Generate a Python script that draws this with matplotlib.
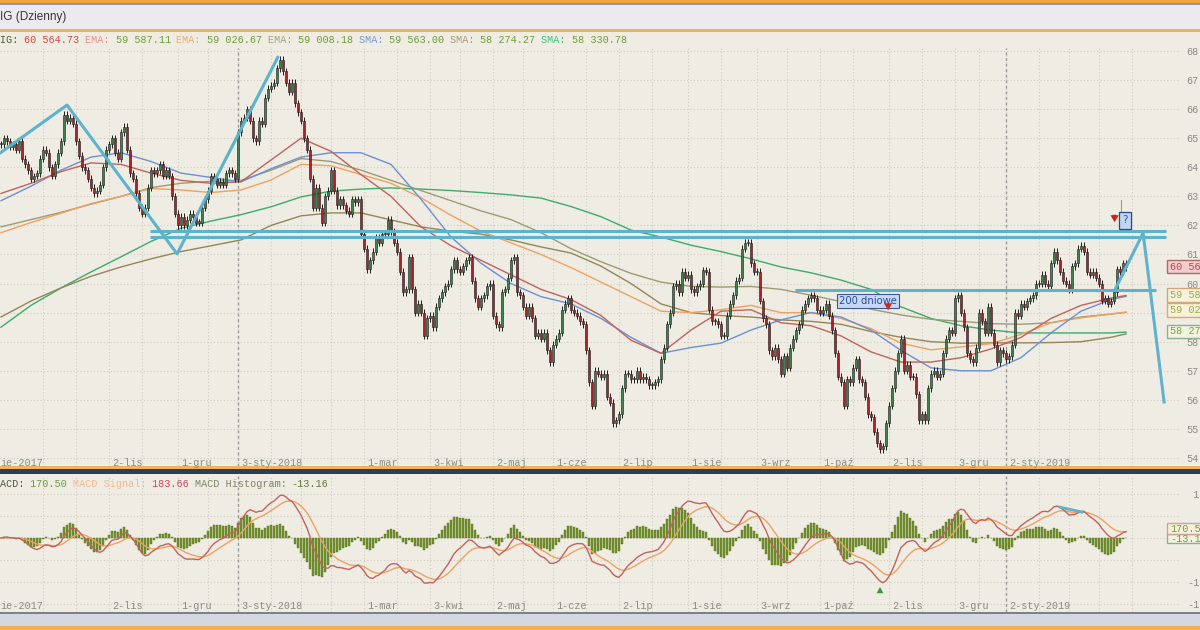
import numpy as np
import pandas as pd
import matplotlib
matplotlib.use("Agg")
import matplotlib.pyplot as plt
from matplotlib.patches import Rectangle

# WIG daily, mid-Sep 2017 .. Feb 2019, closes in thousands of points
closes = [
    64.8, 65.0, 64.9, 64.7, 64.8, 64.6, 64.9, 64.3, 64.1, 63.9,
    63.6, 63.7, 63.8, 64.3, 64.6, 64.5, 64.0, 63.7, 64.1, 64.5,
    64.9, 65.8, 65.6, 65.7, 65.5, 64.9, 64.4, 64.0, 63.9, 63.6,
    63.3, 63.1, 63.2, 63.4, 64.0, 64.6, 64.8, 65.0, 64.5, 64.3,
    65.2, 65.4, 64.6, 63.8, 63.6, 63.1, 62.6, 62.4, 62.6, 63.3,
    63.9, 63.8, 63.9, 64.1, 63.7, 63.9, 63.7, 63.0, 62.4, 62.0,
    62.3, 62.0, 62.2, 62.4, 62.3, 62.1, 62.1, 62.6, 62.9, 63.2,
    63.7, 63.6, 63.4, 63.5, 63.4, 63.8, 63.9, 63.8, 63.6, 65.2,
    65.6, 65.7, 66.0, 65.6, 65.0, 64.9, 65.6, 65.5, 66.4, 66.7,
    66.8, 66.9, 67.4, 67.7, 67.3, 66.9, 66.6, 66.9, 66.2, 65.9,
    65.6, 65.0, 64.6, 63.6, 62.6, 63.3, 62.6, 62.1, 63.0, 63.2,
    63.9, 63.2, 62.7, 62.9, 62.7, 62.5, 62.4, 62.9, 62.8, 62.9,
    61.7, 61.2, 60.5, 60.8, 61.1, 61.6, 61.4, 61.7, 61.7, 62.2,
    61.8, 61.4, 61.1, 60.4, 59.7, 59.8, 60.9, 59.8, 59.0, 59.3,
    59.0, 58.2, 58.8, 58.9, 58.5, 59.2, 59.5, 59.7, 59.9, 60.0,
    60.5, 60.8, 60.5, 60.4, 60.6, 60.8, 60.9, 60.1, 59.5, 59.2,
    59.5, 59.6, 59.9, 60.0, 58.9, 58.6, 58.5, 59.7, 59.8, 60.2,
    60.8, 60.9, 59.7, 59.6, 59.2, 58.9, 59.2, 58.8, 58.2, 58.3,
    58.1, 58.3, 57.7, 57.3, 57.9, 58.1, 58.3, 59.1, 59.3, 59.5,
    59.1, 59.0, 58.9, 58.7, 58.6, 57.7, 56.6, 55.8, 57.0, 56.9,
    56.8, 56.9, 56.1, 55.9, 55.2, 55.3, 55.5, 56.4, 56.9, 56.9,
    56.7, 56.7, 57.0, 56.7, 56.8, 56.7, 56.5, 56.5, 56.6, 56.7,
    57.4, 57.8, 58.6, 59.0, 59.9, 60.0, 59.7, 60.4, 60.2, 60.3,
    59.8, 59.7, 59.9, 60.0, 60.45, 60.4, 59.1, 58.7, 58.7, 58.6,
    58.2, 58.2, 58.9, 59.3, 59.6, 60.1, 60.2, 61.2, 61.4, 61.4,
    60.7, 60.4, 60.4, 59.4, 58.8, 58.6, 57.7, 57.5, 57.8, 57.4,
    56.9, 57.5, 57.1, 57.8, 58.1, 58.4, 58.6, 59.1, 59.3, 59.5,
    59.6, 59.5, 59.1, 59.0, 59.1, 59.3, 58.9, 58.4, 57.6, 56.8,
    56.6, 55.8, 56.7, 56.6, 57.1, 57.4, 56.7, 56.6, 56.1, 55.5,
    55.4, 54.9, 54.5, 54.3, 54.4, 55.2, 55.8, 56.4, 57.0, 57.6,
    58.1, 57.0, 57.2, 56.8, 56.8, 56.2, 55.3, 55.5, 55.3, 56.4,
    56.9, 57.0, 56.8, 56.9, 57.6, 58.1, 58.4, 58.3, 59.5, 59.6,
    59.0, 58.5, 57.6, 57.4, 57.3, 57.8, 59.0, 58.7, 58.3, 59.2,
    58.3, 57.9, 57.3, 57.7, 57.6, 57.4, 57.5, 57.9, 59.0, 58.9,
    59.3, 59.2, 59.4, 59.5, 59.6, 60.0, 60.0, 60.3, 60.0, 59.9,
    60.7, 61.1, 60.8, 60.4, 60.1, 60.0, 59.8, 60.6, 60.7, 61.2,
    61.3, 61.1, 60.4, 60.3, 60.4, 60.2, 60.0, 59.4, 59.5, 59.3,
    59.4, 59.7, 60.5, 60.4, 60.7, 60.56,
]

# moving averages every 10 sessions
ma_idx = list(range(0, 371, 10)) + [375]
ema_short = [63.1, 63.45, 63.85, 64.15, 64.1, 63.8, 63.55, 63.45, 63.5, 64.25,
             65.0, 64.55, 63.75, 63.0, 61.95, 61.3, 60.8, 60.3, 59.8, 59.45,
             58.9, 58.05, 57.6, 58.4, 59.05, 59.1, 58.65, 58.55, 58.2, 57.65,
             57.3, 57.3, 57.45, 57.75, 58.15, 58.8, 59.25, 59.5, 59.59]
sma_short = [62.85, 63.35, 63.9, 64.35, 64.5, 64.2, 63.8, 63.65, 63.5, 63.95,
             64.35, 64.5, 64.5, 64.1, 62.9, 61.6, 60.7, 60.0, 59.55, 59.3,
             58.8, 58.15, 57.6, 57.8, 57.95, 58.4, 58.75, 59.0, 58.85, 58.4,
             57.7, 57.1, 57.0, 57.0, 57.45, 58.3, 59.05, 59.45, 59.56]
ema_mid = [61.75, 62.1, 62.42, 62.75, 63.0, 63.27, 63.22, 63.13, 63.22, 63.56,
           64.1, 64.05, 63.75, 63.45, 62.95, 62.35, 61.8, 61.4, 61.0, 60.55,
           60.05, 59.55, 59.05, 59.0, 59.1, 59.25, 59.0, 59.0, 58.8, 58.45,
           57.95, 57.72, 57.82, 57.93, 58.25, 58.65, 58.82, 58.95, 59.02]
ema_long = [61.95, 62.2, 62.45, 62.73, 63.0, 63.3, 63.45, 63.52, 63.55, 63.9,
            64.3, 64.2, 63.9, 63.55, 63.2, 62.85, 62.5, 62.2, 61.75, 61.2,
            60.75, 60.35, 60.05, 59.9, 59.88, 59.9, 59.8, 59.6, 59.38, 59.12,
            58.92, 58.77, 58.7, 58.62, 58.6, 58.65, 58.85, 58.95, 59.01]
sma_mid = [58.85, 59.4, 59.85, 60.25, 60.57, 60.85, 61.1, 61.3, 61.5, 62.0,
           62.33, 62.43, 62.43, 62.19, 61.95, 61.8, 61.7, 61.5, 61.26, 61.05,
           60.6, 60.0, 59.3, 59.0, 58.9, 58.85, 58.75, 58.7, 58.6, 58.35,
           58.15, 58.0, 57.95, 57.96, 57.96, 57.97, 58.0, 58.15, 58.27]
sma_200 = [58.5, 59.25, 59.85, 60.4, 60.92, 61.45, 61.9, 62.15, 62.37, 62.64,
           62.98, 63.18, 63.25, 63.29, 63.25, 63.2, 63.13, 63.05, 62.94, 62.65,
           62.3, 61.84, 61.6, 61.32, 61.1, 60.85, 60.57, 60.37, 60.12, 59.8,
           59.2, 58.8, 58.55, 58.4, 58.3, 58.3, 58.3, 58.3, 58.33]

month_ticks = [36, 59, 79, 121, 143, 164, 184, 206, 229, 252, 273, 296, 318, 335]
month_labels = ["2-lis", "1-gru", "3-sty-2018", "1-mar", "3-kwi", "2-maj", "1-cze",
                "2-lip", "1-sie", "3-wrz", "1-paź", "2-lis", "3-gru", "2-sty-2019"]
year_ticks = [79, 335]
grid_days = [14, 25, 36, 47, 59, 69, 79, 90, 100, 110, 121, 132, 143, 153, 164, 174,
             184, 195, 206, 217, 229, 240, 252, 262, 273, 284, 296, 307, 318, 326,
             335, 346, 356, 366, 377]
price_ticks = [54, 55, 56, 57, 58, 60, 61, 62, 63, 64, 65, 66, 67, 68]

# hand drawn lines
zig_x = [-0.3, 22, 58.7, 92.3]
zig_y = [64.49, 66.14, 61.02, 67.79]
channel = [61.81, 61.60]
support = 59.78
proj_x = [371.3, 380.7, 387.7]
proj_y = [59.78, 61.74, 55.93]

W, H = 1200, 630
BG = "#efece3"
MONO = "Liberation Mono"
GRIDC = "#cfcbc0"


def fy(py):
    return 1 - py / H


def price_of(py):
    return 68 - (py - 51) / 29.07


fig = plt.figure(figsize=(12, 6.3), dpi=100)
fig.patch.set_facecolor(BG)

# window chrome
for y0, y1, col in [(0, 2.5, "#f2a33a"), (2.5, 4.5, "#8d97a8"), (4.5, 29, "#ebebef"),
                    (29, 32, "#f2b155"), (466, 468.5, "#f2b25a"), (468.5, 474, "#2e3d58"),
                    (612, 614, "#7c818a"), (614, 626, "#d5d8df"), (626, 630, "#f2b050")]:
    fig.add_artist(Rectangle((0, fy(y1)), 1, (y1 - y0) / H, transform=fig.transFigure,
                             color=col, lw=0, zorder=0))

fig.text(0, fy(17), "IG (Dzienny)", fontsize=8.5, family="Liberation Sans",
         color="#353535", va="center")

cw = 6.08  # monospace advance in px


def legend_row(py, parts):
    n = 0
    for s, col in parts:
        fig.text(n * cw / W, fy(py), s, fontsize=7.3, family=MONO, color=col, va="center")
        n += len(s)


VAL = "#6f9c3c"
legend_row(40, [("IG: ", "#4d5a3c"), ("60 564.73 ", "#d24a48"),
                ("EMA: ", "#e99090"), ("59 587.11 ", VAL),
                ("EMA: ", "#f0aa6a"), ("59 026.67 ", VAL),
                ("EMA: ", "#a3a384"), ("59 008.18 ", VAL),
                ("SMA: ", "#7199d8"), ("59 563.00 ", VAL),
                ("SMA: ", "#a99a7c"), ("58 274.27 ", VAL),
                ("SMA: ", "#3fc07f"), ("58 330.78", VAL)])
legend_row(484, [("ACD: ", "#4d5a3c"), ("170.50 ", VAL),
                 ("MACD Signal: ", "#f2b891"), ("183.66 ", "#d24458"),
                 ("MACD Histogram: ", "#7e8464"), ("-13.16", "#5f7a3a")])

# ---------------- price panel ----------------
ax = fig.add_axes([0, fy(466), 1180 / W, (466 - 48) / H])
xmin = -1 / 3
xmax = xmin + 1180 / 3
ax.set_xlim(xmin, xmax)
ax.set_ylim(price_of(466), price_of(48))
ax.set_facecolor(BG)
for s in ax.spines.values():
    s.set_visible(False)
ax.set_xticks([])
ax.yaxis.tick_right()
ax.set_yticks(price_ticks)
ax.set_yticklabels([str(v) for v in price_ticks])
ax.tick_params(axis="y", length=0, pad=4.3, labelsize=7.3, labelcolor="#8a8a8a")
for t in ax.get_yticklabels():
    t.set_family(MONO)

ax.hlines(range(54, 69), xmin, xmax, color=GRIDC, lw=0.8, linestyles=(0, (1, 2)), zorder=1)
ax.vlines(grid_days, price_of(466), price_of(48), color=GRIDC, lw=0.8,
          linestyles=(0, (1, 2)), zorder=1)
ax.vlines(year_ticks, price_of(466), price_of(48), color="#9b9b9b", lw=1.0,
          linestyles=(0, (2, 2)), zorder=1)

for vals, col in [(sma_200, "#3dab6c"), (sma_mid, "#958556"), (ema_long, "#9c9c74"),
                  (ema_mid, "#eea262"), (sma_short, "#6b90d2"), (ema_short, "#c2625c")]:
    ax.plot(ma_idx, vals, color=col, lw=1.0, zorder=2)

c = np.array(closes)
o = np.r_[c[0], c[:-1]]
idx = np.arange(len(c))
wick = 0.12
hi = np.maximum(o, c) + wick
lo = np.minimum(o, c) - wick
up = c >= o
ax.vlines(idx, lo, hi, color="#1e1e1e", lw=0.7, zorder=3)
ax.bar(idx, np.maximum(np.abs(c - o), 0.035), bottom=np.minimum(o, c), width=0.8,
       color=np.where(up, "#3f7f50", "#a3262a"), edgecolor="#1a1a1a", linewidth=0.4,
       zorder=4)

TL = "#5cb3cb"
ax.plot(zig_x, zig_y, color=TL, lw=2.2, zorder=5, solid_capstyle="round")
ax.hlines(channel, 49.7, 388.3, color=TL, lw=2.2, zorder=5)
ax.hlines(support, 264.7, 385, color=TL, lw=2.2, zorder=5)
ax.plot(proj_x, proj_y, color=TL, lw=2.2, zorder=5)

ax.text(289, price_of(301), "200 dniowe", ha="center", va="center", fontsize=7.2,
        family="DejaVu Sans", color="#2b4c9c", zorder=7,
        bbox=dict(boxstyle="square,pad=0.18", fc="#c9d8f2", ec="#3a5a9a", lw=0.8))
arrow = dict(arrowstyle="simple,head_width=0.6,head_length=0.5,tail_width=0.3",
             color="#cc2424", lw=0)
ax.annotate("", xy=(295.7, price_of(313)), xytext=(295.7, price_of(304)),
            arrowprops=arrow, zorder=7)
ax.annotate("", xy=(371.2, price_of(225)), xytext=(371.2, price_of(212)),
            arrowprops=arrow, zorder=7)
ax.plot([373.3, 373.3], [price_of(200), price_of(212)], color="#9a9a9a", lw=0.8, zorder=6)
ax.text(374.6, price_of(220.5), "?", ha="center", va="center", fontsize=7.5,
        family="DejaVu Sans", color="#3553a5", zorder=7,
        bbox=dict(boxstyle="square,pad=0.3", fc="#c3d5f4", ec="#2a4a8a", lw=0.9))

xt = ax.get_xaxis_transform()
lab_y = (466 - 463) / (466 - 48)
ax.text(xmin, lab_y, "ie-2017", transform=xt, fontsize=7.3, family=MONO,
        color="#8a8a8a", va="center")
for t, s in zip(month_ticks, month_labels):
    ax.text(t + 1, lab_y, s, transform=xt, fontsize=7.3, family=MONO,
            color="#8a8a8a", va="center")

# ---------------- MACD panel ----------------
ema12 = pd.Series(c).ewm(span=12, adjust=False).mean()
ema26 = pd.Series(c).ewm(span=26, adjust=False).mean()
macd = ema12 - ema26
signal = macd.ewm(span=9, adjust=False).mean()
hist = macd - signal

m_lo, m_hi = (538 - 612) / 44, (538 - 476) / 44
hscale = 1.6
axm = fig.add_axes([0, fy(612), 1180 / W, (612 - 476) / H])
axm.set_facecolor(BG)
axm.set_xlim(xmin, xmax)
axm.set_ylim(m_lo / hscale, m_hi / hscale)
axm.set_xticks([])
axm.set_yticks([])
for s in axm.spines.values():
    s.set_visible(False)
gl = np.array([-1.5, -1.0, -0.5, 0.0, 0.5, 1.0])
axm.hlines(gl / hscale, xmin, xmax, color=GRIDC, lw=0.8, linestyles=(0, (1, 2)), zorder=1)
axm.vlines(grid_days, m_lo / hscale, m_hi / hscale, color=GRIDC, lw=0.8,
           linestyles=(0, (1, 2)), zorder=1)
axm.vlines(year_ticks, m_lo / hscale, m_hi / hscale, color="#9b9b9b", lw=1.0,
           linestyles=(0, (2, 2)), zorder=1)
axm.bar(idx, hist, width=0.8, color="#72932a", edgecolor="#55701c", linewidth=0.3, zorder=2)

axl = axm.twinx()
axl.set_xlim(xmin, xmax)
axl.set_ylim(m_lo, m_hi)
for s in axl.spines.values():
    s.set_visible(False)
axl.plot(idx, signal, color="#eea262", lw=1.0)
axl.plot(idx, macd, color="#c2625c", lw=1.0)
axl.plot([353, 360.3], [0.70, 0.59], color=TL, lw=2.0)
axl.annotate("", xy=(293, -1.05), xytext=(293, -1.25),
             arrowprops=dict(arrowstyle="simple,head_width=0.5,head_length=0.45,tail_width=0.22",
                             color="#3a9a3a", lw=0))
axl.set_yticks([1.0, -1.0, -1.5])
axl.set_yticklabels([" 1", "-1", "-1"])
axl.tick_params(axis="y", length=0, pad=5, labelsize=7.3, labelcolor="#8a8a8a")
for t in axl.get_yticklabels():
    t.set_family(MONO)
xtm = axl.get_xaxis_transform()
lab_m = (612 - 606) / (612 - 476)
axl.text(xmin, lab_m, "ie-2017", transform=xtm, fontsize=7.3, family=MONO,
         color="#8a8a8a", va="center")
for t, s in zip(month_ticks, month_labels):
    axl.text(t + 1, lab_m, s, transform=xtm, fontsize=7.3, family=MONO,
             color="#8a8a8a", va="center")


# last value boxes on the right edge
def value_box(y0, y1, text, fc, ec, tc):
    fig.add_artist(Rectangle((1167 / W, fy(y1)), 40 / W, (y1 - y0) / H,
                             transform=fig.transFigure, fc=fc, ec=ec, lw=1.0, zorder=8))
    fig.text(1170 / W, fy((y0 + y1) / 2), text, fontsize=7.3, family=MONO, color=tc,
             va="center", zorder=9)


value_box(260, 273, "60 56", "#f3cdcd", "#a86c6c", "#c04444")
value_box(288, 302, "59 58", "#f6f1dc", "#cfa67a", "#93ad3f")
value_box(303, 317, "59 02", "#f6f1dc", "#e0a66a", "#93ad3f")
value_box(325, 338, "58 27", "#f3f3df", "#8fb08f", "#6fa548")
value_box(534, 543, "-13.1", "#f3f3df", "#8fb08f", "#6f9c3c")
value_box(523, 534, "170.5", "#f6f1dc", "#d0a0a0", "#6f9c3c")

fig.savefig("out.png", dpi=100, facecolor=BG)
